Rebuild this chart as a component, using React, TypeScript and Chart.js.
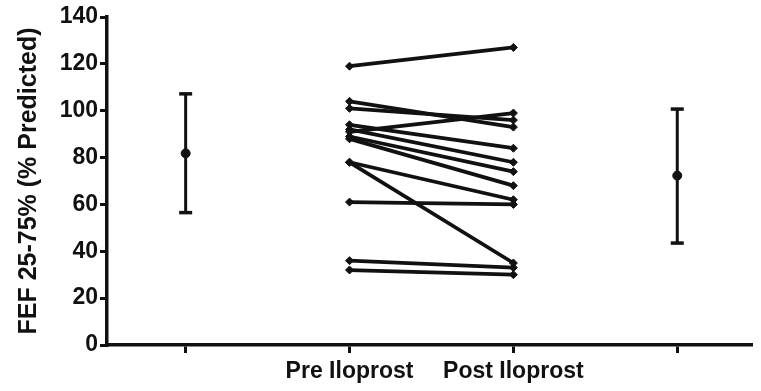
import React, { useEffect, useRef } from "react";
import { Chart, registerables } from "chart.js";

Chart.register(...registerables);

const categoryLabels = ["", "Pre Iloprost", "Post Iloprost", ""];
const yTicks = [0, 20, 40, 60, 80, 100, 120, 140];
const preValues = [119, 104, 101, 91, 94, 92, 89, 88, 78, 78, 61, 36, 32];
const postValues = [127, 93, 96, 99, 84, 78, 74, 68, 62, 35, 60, 33, 30];
const summaryPositions = [1, 4];
const summaryMeans = [81.8, 72.3];
const summaryLow = [56.5, 43.5];
const summaryHigh = [107.2, 100.7];

export default function App() {
  const ref = useRef<HTMLCanvasElement | null>(null);
  useEffect(() => {
    if (!ref.current) return;
    const datasets: any[] = [];
    preValues.forEach((p, i) => {
      datasets.push({
        type: "line",
        data: [
          { x: 2, y: p },
          { x: 3, y: postValues[i] },
        ],
        borderColor: "#111",
        backgroundColor: "#111",
        borderWidth: 3.8,
        pointStyle: "rectRot",
        pointRadius: 4,
        pointBorderWidth: 1,
      });
    });
    summaryPositions.forEach((pos, i) => {
      datasets.push({
        type: "line",
        data: [
          { x: pos, y: summaryLow[i] },
          { x: pos, y: summaryHigh[i] },
        ],
        borderColor: "#111",
        backgroundColor: "#111",
        borderWidth: 3,
        pointStyle: "line",
        pointRadius: 6.5,
        pointBorderWidth: 3.5,
      });
      datasets.push({
        type: "scatter",
        data: [{ x: pos, y: summaryMeans[i] }],
        borderColor: "#111",
        backgroundColor: "#111",
        pointStyle: "circle",
        pointRadius: 4.5,
      });
    });
    const font = { family: "'Liberation Sans', Arial, sans-serif", weight: "bold" as const };
    const chart = new Chart(ref.current, {
      type: "line",
      data: { datasets },
      options: {
        animation: false,
        responsive: false,
        layout: { padding: { top: 17, right: 0, left: 0, bottom: 0 } },
        plugins: { legend: { display: false }, tooltip: { enabled: false } },
        scales: {
          x: {
            type: "linear",
            min: 0.52,
            max: 4.45,
            afterBuildTicks: (s: any) => {
              s.ticks = [1, 2, 3, 4].map((v) => ({ value: v }));
            },
            afterFit: (s: any) => {
              s.height = 46;
            },
            ticks: {
              color: "#111",
              font: { ...font, size: 23 },
              padding: 5,
              maxRotation: 0,
              autoSkip: false,
              callback: (v: any) => categoryLabels[Math.round(Number(v)) - 1] ?? "",
            },
            grid: { drawOnChartArea: false, drawTicks: true, tickLength: 8, color: "#111", lineWidth: 3 },
            border: { display: true, color: "#111", width: 3.5 },
          },
          y: {
            type: "linear",
            min: 0,
            max: 140,
            afterBuildTicks: (s: any) => {
              s.ticks = yTicks.map((v) => ({ value: v }));
            },
            afterFit: (s: any) => {
              s.width = 107;
            },
            ticks: { color: "#111", font: { ...font, size: 23 }, padding: 2 },
            grid: { drawOnChartArea: false, drawTicks: true, tickLength: 7, color: "#111", lineWidth: 3 },
            border: { display: true, color: "#111", width: 3.5 },
            title: {
              display: true,
              text: "FEF 25-75% (% Predicted)",
              color: "#111",
              font: { ...font, size: 25 },
              padding: { top: 14, bottom: 0 },
            },
          },
        },
      },
    });
    return () => chart.destroy();
  }, []);
  return (
    <div style={{ position: "absolute", left: 0, top: 0, width: 761, height: 391, background: "#fff" }}>
      <canvas ref={ref} width={761} height={391} />
    </div>
  );
}
